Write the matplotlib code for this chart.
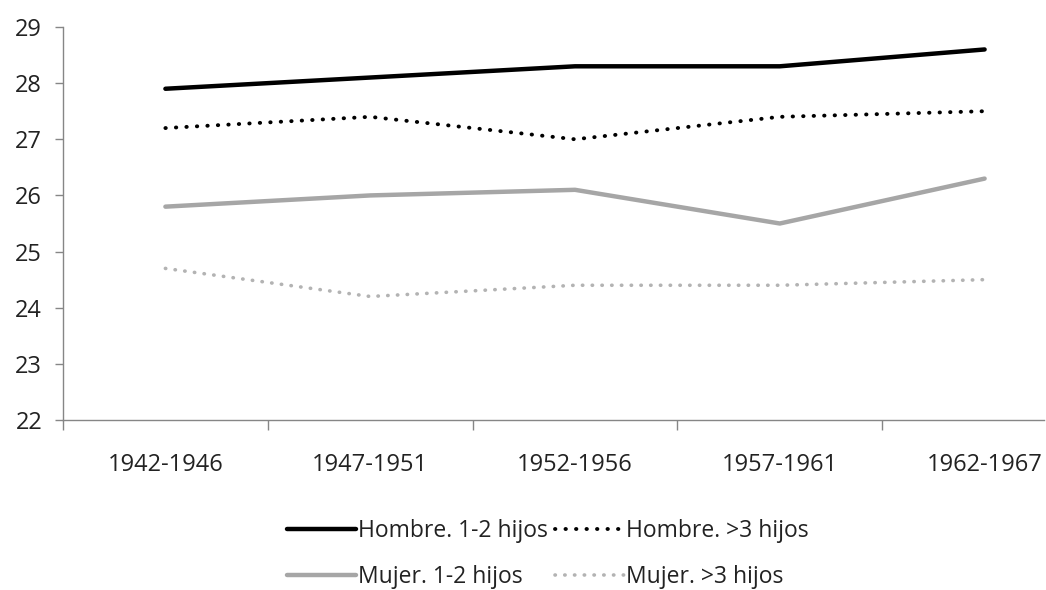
import numpy as np
import matplotlib.pyplot as plt

periodos = ["1942-1946", "1947-1951", "1952-1956", "1957-1961", "1962-1967"]
hombre_12 = [27.9, 28.1, 28.3, 28.3, 28.6]
hombre_3 = [27.2, 27.4, 27.0, 27.4, 27.5]
mujer_12 = [25.8, 26.0, 26.1, 25.5, 26.3]
mujer_3 = [24.7, 24.2, 24.4, 24.4, 24.5]

plt.rcParams['font.family'] = ['Open Sans', 'DejaVu Sans']

fig = plt.figure(figsize=(10.46, 5.9), dpi=100)
ax = fig.add_axes([63 / 1046, 1 - 420 / 590, (1044 - 63) / 1046, (420 - 27) / 590])

x = np.arange(len(periodos))
dots = (0, (0.1, 2.6))
l1, = ax.plot(x, hombre_12, color="black", lw=3.2, solid_capstyle="round", label="Hombre. 1-2 hijos")
l2, = ax.plot(x, hombre_3, color="black", lw=2.8, ls=dots, dash_capstyle="round", label="Hombre. >3 hijos")
l3, = ax.plot(x, mujer_12, color="#a6a6a6", lw=3.2, solid_capstyle="round", label="Mujer. 1-2 hijos")
l4, = ax.plot(x, mujer_3, color="#b3b3b3", lw=2.6, ls=dots, dash_capstyle="round", label="Mujer. >3 hijos")

ax.set_ylim(22, 29)
ax.set_yticks(range(22, 30))
ax.set_xlim(-0.5, 4.29)
ax.set_xticks(x)
ax.set_xticklabels(periodos)
ax.set_xticks(np.arange(-0.5, 4.3, 1), minor=True)
ax.tick_params(axis="x", which="major", length=0, pad=24, labelsize=17, colors="#222222")
ax.tick_params(axis="x", which="minor", length=7, color="#868686", width=1)
ax.tick_params(axis="y", length=6, color="#868686", width=1, labelsize=17, labelcolor="#222222", pad=9)

for s in ["top", "right"]:
    ax.spines[s].set_visible(False)
for s in ["left", "bottom"]:
    ax.spines[s].set_color("#868686")
    ax.spines[s].set_linewidth(1)

# ncol=2 fills column-wise, so order handles so rows read Hombre / Mujer
handles = [l1, l3, l2, l4]
labels = [h.get_label() for h in handles]
fig.legend(handles, labels, ncol=2, loc="center", bbox_to_anchor=(548 / 1046, 1 - 554 / 590),
           frameon=False, fontsize=16.5, handlelength=3.0, handletextpad=0.1,
           columnspacing=0.3, labelspacing=1.0, labelcolor="#222222")

fig.savefig("out.png", dpi=100)
